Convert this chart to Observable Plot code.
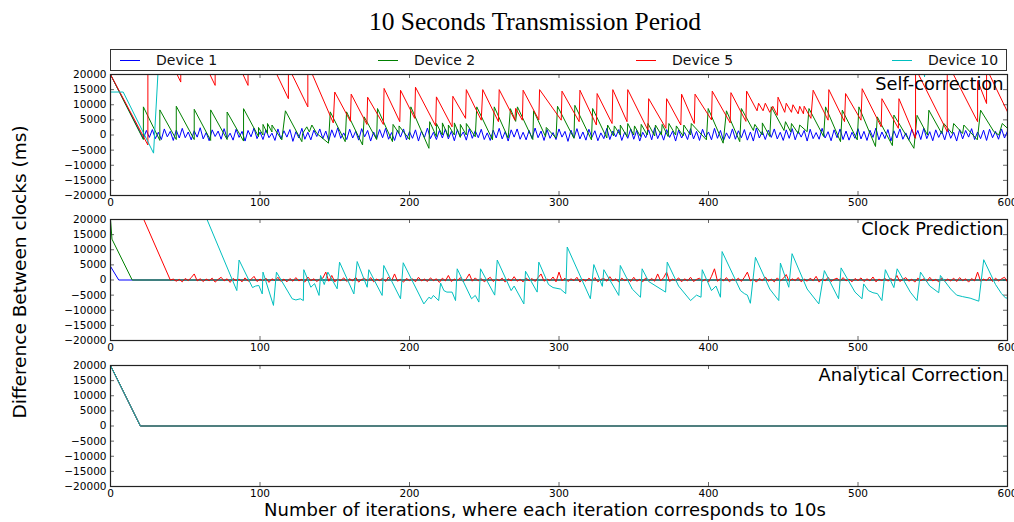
<!DOCTYPE html>
<html>
<head>
<meta charset="utf-8">
<script src="https://cdn.jsdelivr.net/npm/d3@7"></script>
<script src="https://cdn.jsdelivr.net/npm/@observablehq/plot@0.6"></script>
<style>
  html, body { margin: 0; padding: 0; background: #fff; }
  #wrap { position: relative; width: 1014px; height: 522px; overflow: hidden; background: #fff; font-family: "DejaVu Sans", sans-serif; }
  #title { position: absolute; top: 7px; left: 0; width: 1070px; text-align: center; font-family: "Liberation Serif", "DejaVu Serif", serif; font-size: 25.5px; color: #000; }
  #ylab { position: absolute; left: 19px; top: 272px; transform: translate(-50%, -50%) rotate(-90deg); white-space: nowrap; font-size: 18.5px; color: #000; }
  #xlab { position: absolute; top: 499px; left: 0; width: 1090px; text-align: center; font-size: 18px; color: #000; }
  #legend { position: absolute; left: 110px; top: 49px; width: 895px; height: 20px; border: 1px solid #333; background: #fff; z-index: 5; }
  .item { position: absolute; top: 0; height: 20px; display: flex; align-items: center; font-size: 14px; color: #111; }
  .item span.sw { display: inline-block; width: 20px; height: 0; border-top: 1px solid; margin-right: 16px; }
  .panel { position: absolute; left: 0; }
</style>
</head>
<body>
<div id="wrap">
  <div id="title">10 Seconds Transmission Period</div>
  <div id="legend"></div>
  <div id="p1" class="panel" style="top:64px"></div>
  <div id="p2" class="panel" style="top:209px"></div>
  <div id="p3" class="panel" style="top:355px"></div>
  <div id="ylab">Difference Between clocks (ms)</div>
  <div id="xlab">Number of iterations, where each iteration corresponds to 10s</div>
</div>
<script>
// ---------- categories / ticks ----------
const devices = ["Device 1", "Device 2", "Device 5", "Device 10"];
const deviceColors = ["#0000ff", "#008000", "#ff0000", "#00bfbf"];
const panelTitles = ["Self-correction", "Clock Prediction", "Analytical Correction"];
const xTicks = [0, 100, 200, 300, 400, 500, 600];
const yTicks = [-20000, -15000, -10000, -5000, 0, 5000, 10000, 15000, 20000];

// ---------- Panel 1: Self-correction ----------
const selfD1Head = [[0, 20000], [22, -1200]];
const selfD1NoiseStart = 24, selfD1NoiseStep = 2;
const selfD1Noise = [
  1500,-800,1800,-1200,900,-1500,2000,-600,1200,-1800,
  1600,-1000,2200,-900,1000,-1600,1400,-700,2400,-1300,
  800,-1900,1700,-500,1300,-1400,2100,-1100,600,-1700,
  1900,-800,1200,-2000,1500,-600,2300,-1200,1000,-1500,
  1700,-900,600,-1800,2000,-1300,1400,-700,1800,-2100,
  1100,-1000,2200,-1400,900,-1600,1600,-500,2000,-1200,
  1300,-1900,1700,-800,2400,-1100,700,-1500,1900,-1000,
  1200,-1700,2100,-600,1500,-2000,1000,-1300,1800,-900,
  2200,-1400,800,-1800,1600,-700,2000,-1600,1100,-1100,
  1700,-2000,1300,-800,2300,-1200,900,-1500,1500,-1000,
  2000,-1300,1200,-1900,1800,-600,1000,-1700,2100,-1100,
  1400,-900,1900,-1500,700,-1800,1600,-1000,2200,-1300,
  1100,-2000,1700,-700,2000,-1400,900,-1600,1500,-1200,
  2300,-900,1300,-1800,1800,-1100,800,-1500,2000,-700,
  1200,-2100,1600,-1000,2100,-1300,1000,-1700,1900,-800,
  1400,-1900,700,-1200,2200,-1500,1300,-600,1800,-1800,
  1000,-1100,2000,-1400,1500,-2000,900,-900,1700,-1600,
  2400,-1200,1100,-1700,1800,-800,1300,-2000,1600,-1000,
  800,-1500,2100,-1300,1200,-1800,1900,-700,1000,-1600,
  2200,-1100,1500,-1900,700,-1200,2000,-1400,1400,-900,
  1800,-1700,1000,-2000,2300,-1000,1200,-1500,1600,-800,
  2000,-1300,900,-1800,1700,-1100,2100,-1600,1300,-700,
  1500,-2000,1900,-1200,800,-1400,2200,-1000,1100,-1900,
  1700,-900,2000,-1500,1300,-1700,900,-1100,2100,-1300,
  1200,-1800,1600,-800,2300,-1600,1000,-1200,1800,-2000,
  1400,-1000,2000,-1400,700,-1700,1900,-900,1500,-1500,
  2200,-1200,1100,-1900,1700,-800,1300,-1600,2000,-1100,
  900,-2000,1800,-1300,1500,-700,2100,-1500,1000,-1200,
  1600,-1800,1900,-900,1200,-1400,2000,-1000,1300
];
const selfD2 = [
  [0,20000],[22,-1500],[22,9300],[33,-1800],[33,8300],[44,-1500],[44,9500],[56,-1500],[56,8500],
  [67,-1800],[67,8300],[78,-1500],[78,7600],[89,-2000],[89,8700],[99,-500],[99,2500],[102,0],[102,3500],
  [105,500],[105,3800],[108,1000],[108,3300],[114.6,-1600],[117,8000],[128,-2200],[128.5,500],[131.3,2700],
  [133,1000],[134.7,3300],[138,500],[145.8,-2700],[147,7650],[157,-2200],[157.9,7650],[168.6,-3300],
  [169.7,6000],[178,-1500],[178.6,8750],[188.6,-2200],[189,3500],[193,500],[193,3000],[200,-1500],
  [200.9,9300],[213,-4400],[213.5,4400],[218,-500],[218,3800],[222,0],[222,4000],[226,-500],[226,3300],
  [230,0],[230,4000],[234,-800],[234,3500],[238,0],[238,3800],[244,-600],[245,9300],[255.5,-1600],
  [256.7,9300],[266,-1000],[267.5,8700],[271,4500],[272.2,9300],[282.5,-1500],[283,8000],[291,-500],
  [291.5,2500],[298,-1000],[299,9500],[310,-1100],[310.6,9800],[321.7,-1600],[322.5,8750],[332,-1000],
  [332.5,3300],[336.5,-300],[337,3000],[341,0],[341,3300],[345.5,-500],[346,3800],[350,0],[350.5,3000],
  [354.5,-500],[355,3500],[359,0],[359.5,3800],[364,-300],[364.5,3300],[368.5,0],[369,3500],[373,-500],
  [373.5,3800],[378,0],[378.5,3000],[383,-300],[383.5,3300],[388,0],[388.5,3800],[398.6,-1600],
  [399.8,8750],[409.8,-2700],[412,8000],[420.9,-2200],[422,8750],[430,1500],[431,3500],[436,0],
  [436,4000],[441,-500],[442,9300],[450.5,1500],[451.5,4400],[455,1000],[455.5,3800],[460,500],
  [461,3300],[466,1100],[467.2,8750],[477,-500],[478.3,9300],[488.3,-2200],[489.5,8200],[499.5,-1600],
  [500.6,9300],[511.7,-3800],[512.9,6000],[523,-3500],[524,6600],[537.4,-4400],[539.5,6500],
  [546.5,0],[547.4,8200],[556,500],[557.4,3800],[563,500],[564,3800],[570,500],[570.8,3300],
  [579.8,-1600],[582,8200],[590.9,1100],[594.2,0],[596.5,3800],[600,2200]
];
const selfD5 = [
  [0,20000],[25,-3300],[25,40000],[47,17500],[47,40000],[70,16400],[70,40000],[92,16400],[92,40000],
  [119,12000],[119,22500],[132,9300],[132,23500],[149,4000],[150,14200],[160.5,4500],[161,13500],
  [171.5,3500],[172,12500],[182.5,3500],[183,15400],[193.5,4400],[194,14800],[203.5,5500],[204,15800],
  [217.5,3000],[218,12600],[228.5,2700],[229,12800],[237.5,5500],[238,15000],[248,4900],[249,15000],
  [259.5,4400],[260,15000],[270.5,4900],[271,8800],[275.5,4900],[276,14800],[286.5,5000],[287,15000],
  [301.5,4900],[302,14500],[313.5,4400],[314,14800],[325,3300],[325.5,13700],[335.5,3800],[336,15000],
  [345.5,4400],[346,15000],[359.5,1600],[360,12000],[371.5,2200],[372,12000],[381.5,3300],[382,13500],
  [390.5,3800],[391,13500],[402,5000],[402.5,14500],[414.5,4000],[415,14000],[425,4500],[425.5,14500],
  [432.5,8000],[433.5,10500],[436.5,8000],[438,10500],[441,7500],[443,9500],[446,6500],[446.5,12500],
  [451,7500],[452,10500],[455.5,7500],[456.5,10000],[460,7000],[461,9500],[463.5,7000],[464,9500],
  [468.5,5500],[470,14800],[480,4900],[480.5,15000],[491,4400],[491.7,13700],[502,4900],[502.8,15300],
  [515.5,2700],[516,12000],[527,2200],[527.4,12000],[538.5,-1100],[538.5,22000],[559.7,1100],
  [559.7,24000],[580,4400],[580,18000],[586,10400],[586,22000],[600,7650]
];
const selfD10 = [
  [0,14200],[8.5,14200],[28.8,-6000],[31.7,20000],[33,30000],[543,30000],[544.5,19200],[546,30000],[600,30000]
];

// ---------- Panel 2: Clock Prediction ----------
const predD1 = [[0,4500],[5.5,0],[600,0]];
const predD2 = [[0,20000],[1,13500],[14.5,0],[600,0]];
const predD5Head = [[0,20000],[1,44000],[40,0]];
const predD5NoiseStart = 42, predD5NoiseStep = 2;
const predD5Noise = [
  300,-400,200,-600,500,-200,800,2000,-300,400,
  -500,300,-200,600,-700,200,900,-300,400,-800,
  500,-200,300,-600,700,-400,200,1200,-500,300,
  -300,600,-800,400,-200,900,-500,300,-600,500,
  -400,800,-300,200,-700,1000,-200,400,-500,300,
  600,2600,-400,1500,-600,300,-200,700,-500,400,
  -300,900,-700,200,500,-400,800,-600,300,-200,
  600,-500,1000,-300,2000,-400,200,-700,500,-200,
  400,-600,900,-300,300,-500,700,-200,400,-800,
  600,-300,1500,-500,300,-200,800,-600,400,2000,
  -400,700,-300,500,-600,200,900,-500,300,-200,
  600,-700,400,-300,1100,-400,200,-600,700,-300,
  500,-500,800,2000,-400,300,-200,1000,-600,2600,
  -300,600,-500,400,-200,900,-700,300,-400,600,
  -300,800,-600,200,500,-400,1100,-300,400,-700,
  600,-200,300,-500,900,-400,200,-600,700,-300,
  500,-400,2000,-300,800,2600,-500,300,-200,700,
  -600,400,-300,900,-500,200,600,-400,300,-700,
  1200,3700,-400,500,-300,800,-600,300,-200,600,
  -500,900,2600,-300,400,-700,500,-200,1000,-400,
  300,-600,700,-300,500,1800,-500,400,-200,800,
  -600,300,-400,600,-200,1200,-700,400,-300,900,
  -500,200,600,-400,800,-300,300,-600,500,-200,
  700,-500,400,-300,1000,-600,300,-200,600,-400,
  500,-300,1500,-500,200,800,-400,300,-700,600,
  -200,400,-500,900,-300,200,-600,700,-400,300,
  -300,600,-500,800,-200,400,-700,500,-300,2600,
  -400,300,-200,1000,-500,600,-300,400,900,-600
];
const predD10 = [
  [0,20000],[1,95000],[84.5,-3500],[86,6600],[95,-2500],[97,-2000],[99.2,-1800],[101.5,-4600],
  [102,2600],[109,-8400],[111,2600],[121.5,-6200],[124,-6600],[127,-6200],[129,-6800],[129.3,3400],
  [134,-2400],[136.5,-1200],[139.5,-5100],[140.5,1500],[143,-1500],[145.4,2600],[151.6,-2900],
  [153.2,5900],[162.8,-4600],[165,6100],[171.7,-2400],[172.8,3400],[181.7,-5100],[182.8,4800],
  [194,-6200],[195.8,5700],[209.6,-7900],[213,-5700],[214.5,-6200],[216,-5100],[219.5,-6800],
  [220.8,-1000],[223,-3500],[225,-4000],[228.5,-4000],[230.8,-6800],[231.9,3700],[241.5,-6200],
  [244,-5100],[246.4,-7300],[247.5,3700],[257,-5000],[258.7,6600],[268,-3500],[270,-2000],
  [276.5,-7900],[277.6,2900],[285.4,-4000],[286.5,5900],[293,-1500],[296,-2500],[301,-3000],
  [304.5,-4500],[305.5,10900],[321,-6200],[323.3,5100],[329,-2100],[330,3400],[340,-5100],
  [341,4800],[349,-3000],[354.5,-5700],[355.6,3700],[360,-500],[371.3,-4000],[372.4,5900],
  [380,-2000],[388,-6800],[392,-5000],[395,-5700],[395.8,3400],[402,-3500],[405,-2000],[408,-5700],
  [409.1,9400],[421.4,-3500],[424,-4500],[426,-5000],[428,-7700],[431.4,7500],[441,-3000],
  [447,-6800],[448.1,5600],[453.7,-2400],[455.9,8700],[466,-3000],[473.8,-7900],[477.5,3100],
  [487,-6200],[488.7,4000],[498,-4000],[502.7,-6200],[503.8,-1300],[507,-3500],[510,-4200],
  [513,-4500],[516,-6800],[518.3,3400],[524,-2500],[526.2,3700],[535,-4000],[539.5,-6800],
  [541.8,2600],[548,-2000],[554,-4200],[555.1,1500],[562,-3000],[566,-5000],[570,-5500],
  [575,-6000],[580.8,-7000],[584.1,6700],[592,-1500],[596,-4500],[598.6,-5900],[600,-6000]
];

// ---------- Panel 3: Analytical Correction (all devices identical) ----------
const anaD1 = [[0,20000],[20,0],[600,0]];
const anaD2 = [[0,20000],[20,0],[600,0]];
const anaD5 = [[0,20000],[20,0],[600,0]];
const anaD10 = [[0,20000],[20,0],[600,0]];

// ---------- build tables ----------
function tbl(pairs, device) { return pairs.map(([x, y]) => ({x, y, device})); }
function noise(start, step, vals, device) { return vals.map((y, i) => ({x: start + i * step, y, device})); }

const panel1 = [
  ...tbl(selfD1Head, devices[0]), ...noise(selfD1NoiseStart, selfD1NoiseStep, selfD1Noise, devices[0]),
  ...tbl(selfD2, devices[1]), ...tbl(selfD5, devices[2]), ...tbl(selfD10, devices[3])
];
const panel2 = [
  ...tbl(predD1, devices[0]), ...tbl(predD2, devices[1]),
  ...tbl(predD5Head, devices[2]), ...noise(predD5NoiseStart, predD5NoiseStep, predD5Noise, devices[2]),
  ...tbl(predD10, devices[3])
];
const panel3 = [
  ...tbl(anaD1, devices[0]), ...tbl(anaD2, devices[1]), ...tbl(anaD5, devices[2]), ...tbl(anaD10, devices[3])
];

// ---------- legend ----------
const legend = document.getElementById("legend");
const legendLeft = [9, 267, 525, 781];
devices.forEach((d, i) => {
  const it = document.createElement("div");
  it.className = "item";
  it.style.left = legendLeft[i] + "px";
  it.innerHTML = `<span class="sw" style="border-color:${deviceColors[i]}"></span>${d}`;
  legend.appendChild(it);
});

const fmt = d => (d < 0 ? "\u2212" : "") + Math.abs(d);

function makePanel(data, title, height) {
  const W = 1014, mL = 110, mR = 7, mT = 10, mB = height - 10 - 121;
  const fh = height - mT - mB, fw = W - mL - mR;
  return Plot.plot({
    width: W, height, marginLeft: mL, marginRight: mR, marginTop: mT, marginBottom: mB,
    style: {background: "transparent", fontFamily: "DejaVu Sans, sans-serif", fontSize: "10.5px", color: "#000"},
    x: {domain: [0, 600]},
    y: {domain: [-20000, 20000]},
    color: {domain: devices, range: deviceColors},
    marks: [
      Plot.axisX({ticks: xTicks, tickSize: 0, tickPadding: 3, tickFormat: d => d, label: null}),
      Plot.axisY({ticks: yTicks, tickSize: 0, tickPadding: 4, tickFormat: fmt, label: null}),
      Plot.tickX(xTicks, {x: d => d, insetTop: fh - 4, stroke: "#000", strokeOpacity: 0.6}),
      Plot.tickX(xTicks, {x: d => d, insetBottom: fh - 4, stroke: "#000", strokeOpacity: 0.6}),
      Plot.tickY(yTicks, {y: d => d, insetRight: fw - 4, stroke: "#000", strokeOpacity: 0.6}),
      Plot.tickY(yTicks, {y: d => d, insetLeft: fw - 4, stroke: "#000", strokeOpacity: 0.6}),
      Plot.line(data, {x: "x", y: "y", z: "device", stroke: "device", strokeWidth: 1, clip: true}),
      Plot.frame({stroke: "#222", strokeWidth: 1.2}),
      Plot.text([title], {frameAnchor: "top-right", text: d => d, textAnchor: "end", lineAnchor: "top", dx: -4, dy: 3, fontSize: 17.8, fill: "#000"})
    ]
  });
}

document.getElementById("p1").appendChild(makePanel(panel1, panelTitles[0], 149));
document.getElementById("p2").appendChild(makePanel(panel2, panelTitles[1], 149));
document.getElementById("p3").appendChild(makePanel(panel3, panelTitles[2], 149));
</script>
</body>
</html>
